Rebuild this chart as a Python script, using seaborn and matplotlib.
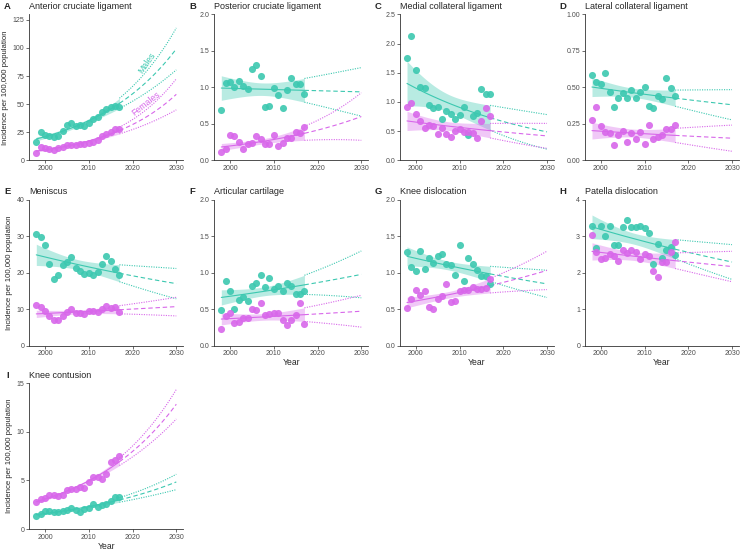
import numpy as np
import pandas as pd
import matplotlib
matplotlib.use("Agg")
import matplotlib.pyplot as plt
import seaborn as sns

# observed years
years = [1998, 1999, 2000, 2001, 2002, 2003, 2004, 2005, 2006, 2007,
         2008, 2009, 2010, 2011, 2012, 2013, 2014, 2015, 2016, 2017]
proj_end = 2030

# incidence per 100,000
acl_m = [16.3, 25.2, 22.2, 21.3, 20.4, 21.6, 26.0, 31.0, 33.5, 30.5,
         31.7, 30.8, 33.5, 36.4, 38.5, 43.0, 46.0, 47.4, 48.3, 47.4]
acl_f = [6.8, 12.1, 11.3, 10.1, 9.2, 10.7, 11.6, 13.3, 13.9, 13.6,
         14.5, 14.2, 15.7, 16.6, 17.8, 21.6, 23.7, 25.2, 27.5, 28.1]
pcl_m = [0.69, 1.06, 1.07, 1.00, 1.09, 1.02, 0.98, 1.25, 1.31, 1.15,
         0.73, 0.74, 0.99, 0.89, 0.71, 0.96, 1.13, 1.05, 1.05, 0.91]
pcl_f = [0.11, 0.15, 0.34, 0.33, 0.25, 0.15, 0.23, 0.24, 0.33, 0.29,
         0.23, 0.23, 0.34, 0.20, 0.24, 0.31, 0.30, 0.39, 0.38, 0.45]
mcl_m = [1.76, 2.13, 1.54, 1.25, 1.24, 0.94, 0.89, 0.91, 0.70, 0.84,
         0.80, 0.71, 0.77, 0.92, 0.43, 0.75, 0.81, 1.22, 1.14, 1.13]
mcl_f = [0.92, 0.98, 0.80, 0.67, 0.56, 0.60, 0.58, 0.45, 0.56, 0.45,
         0.40, 0.50, 0.54, 0.49, 0.48, 0.46, 0.39, 0.67, 0.89, 0.76]
lcl_m = [0.584, 0.534, 0.525, 0.598, 0.468, 0.364, 0.425, 0.461, 0.425, 0.480,
         0.427, 0.468, 0.502, 0.370, 0.355, 0.441, 0.418, 0.564, 0.493, 0.441]
lcl_f = [0.277, 0.366, 0.236, 0.191, 0.189, 0.102, 0.175, 0.202, 0.127, 0.189,
         0.143, 0.191, 0.111, 0.243, 0.143, 0.161, 0.175, 0.216, 0.216, 0.245]
men_m = [30.6, 29.7, 27.6, 22.4, 18.3, 19.4, 22.0, 22.9, 24.3, 21.1,
         20.5, 19.7, 20.0, 19.3, 20.1, 22.3, 24.4, 23.2, 20.9, 19.4]
men_f = [11.2, 10.5, 9.5, 8.0, 7.0, 7.0, 8.2, 9.1, 9.9, 8.9,
         8.9, 8.5, 9.4, 9.5, 9.2, 9.9, 10.7, 10.4, 10.5, 9.3]
cart_m = [0.48, 0.88, 0.74, 0.50, 0.63, 0.67, 0.61, 0.81, 0.86, 0.96,
          0.80, 0.92, 0.78, 0.82, 0.74, 0.85, 0.82, 0.70, 0.70, 0.75]
cart_f = [0.22, 0.40, 0.45, 0.31, 0.32, 0.37, 0.38, 0.50, 0.48, 0.58,
          0.42, 0.43, 0.45, 0.45, 0.35, 0.28, 0.35, 0.42, 0.58, 0.30]
kdis_m = [1.28, 1.08, 1.02, 1.30, 1.05, 1.20, 1.13, 1.23, 1.25, 1.12,
          1.10, 0.96, 1.37, 0.89, 1.20, 1.12, 1.04, 0.95, 0.95, 0.84]
kdis_f = [0.52, 0.64, 0.76, 0.69, 0.75, 0.53, 0.50, 0.64, 0.68, 0.84,
          0.59, 0.61, 0.75, 0.76, 0.76, 0.80, 0.78, 0.78, 0.79, 0.91]
pat_m = [3.27, 2.68, 3.27, 3.01, 3.28, 2.76, 2.76, 3.24, 3.44, 3.26,
         3.25, 3.28, 3.22, 3.09, 2.24, 2.78, 2.41, 2.61, 2.69, 2.47]
pat_f = [3.03, 2.56, 2.36, 2.41, 2.52, 2.45, 2.32, 2.61, 2.54, 2.63,
         2.55, 2.37, 2.51, 2.44, 2.03, 1.87, 2.30, 2.30, 2.56, 2.84]
cont_m = [1.33, 1.57, 1.81, 1.81, 1.74, 1.77, 1.84, 1.98, 2.15, 1.98,
          1.77, 2.01, 2.15, 2.52, 2.28, 2.49, 2.56, 2.83, 3.27, 3.27]
cont_f = [2.76, 3.07, 3.20, 3.51, 3.51, 3.37, 3.51, 4.05, 4.16, 4.09,
          4.36, 4.22, 4.87, 5.32, 5.35, 5.14, 5.69, 6.85, 7.09, 7.50]

letters = ["A", "B", "C", "D", "E", "F", "G", "H", "I"]
titles = ["Anterior cruciate ligament", "Posterior cruciate ligament",
          "Medial collateral ligament", "Lateral collateral ligament",
          "Meniscus", "Articular cartilage", "Knee dislocation",
          "Patella dislocation", "Knee contusion"]
males = [acl_m, pcl_m, mcl_m, lcl_m, men_m, cart_m, kdis_m, pat_m, cont_m]
females = [acl_f, pcl_f, mcl_f, lcl_f, men_f, cart_f, kdis_f, pat_f, cont_f]
yticks = [[0, 25, 50, 75, 100, 125], [0.0, 0.5, 1.0, 1.5, 2.0],
          [0.0, 0.5, 1.0, 1.5, 2.0, 2.5], [0.00, 0.25, 0.50, 0.75, 1.00],
          [0, 10, 20, 30, 40], [0.0, 0.5, 1.0, 1.5, 2.0],
          [0.0, 0.5, 1.0, 1.5, 2.0], [0, 1, 2, 3, 4], [0, 5, 10, 15]]
ytop = [130, 2.0, 2.5, 1.0, 40, 2.0, 2.0, 4, 15]
yfmt = ["%d", "%.1f", "%.1f", "%.2f", "%d", "%.1f", "%.1f", "%d", "%d"]
xticks = [2000, 2010, 2020, 2030]

C_M = "#3cc8b0"
C_F = "#d867ea"
T18 = 2.101


def loglinear_fit(y):
    # log-linear trend with 95% CI on the response scale
    x = np.asarray(years, float)
    xm = x.mean()
    ly = np.log(np.asarray(y, float))
    b, a = np.polyfit(x - xm, ly, 1)
    n = len(x)
    s = np.sqrt(np.sum((ly - (a + b * (x - xm))) ** 2) / (n - 2))
    sxx = np.sum((x - xm) ** 2)

    def pred(xx):
        xc = xx - xm
        mu = np.exp(a + b * xc)
        se = s * np.sqrt(1 / n + xc ** 2 / sxx)
        return mu, mu * (1 - T18 * se), mu * (1 + T18 * se)
    return pred


sns.set_style("ticks")
plt.rcParams["font.family"] = ["Liberation Sans", "DejaVu Sans"]

W, H = 740, 550
fig = plt.figure(figsize=(W / 100, H / 100), dpi=100)
col_left = [29.3, 214.3, 400, 585]
row_top = [14.3, 199.5, 383.0]
aw, ah = 154, 146

xin = np.linspace(years[0], years[-1], 60)
xout = np.linspace(years[-1], proj_end, 60)

for i in range(9):
    r, c = divmod(i, 4)
    l, t = col_left[c], row_top[r]
    ax = fig.add_axes([l / W, 1 - (t + ah) / H, aw / W, ah / H])
    for y, col in [(males[i], C_M), (females[i], C_F)]:
        pred = loglinear_fit(y)
        mu, lo, hi = pred(xin)
        ax.fill_between(xin, lo, hi, color=col, alpha=0.36, lw=0, zorder=1)
        sns.lineplot(x=xin, y=mu, ax=ax, color=col, lw=0.8, zorder=2)
        mu2, lo2, hi2 = pred(xout)
        ax.plot(xout, mu2, color=col, lw=0.8, ls=(0, (4, 2.5)), zorder=2)
        ax.plot(xout, lo2, color=col, lw=0.8, ls=(0, (1, 1.2)), zorder=2)
        ax.plot(xout, hi2, color=col, lw=0.8, ls=(0, (1, 1.2)), zorder=2)
        df = pd.DataFrame({"Year": years, "rate": y})
        sns.scatterplot(data=df, x="Year", y="rate", ax=ax, color=col,
                        s=26, alpha=0.9, linewidth=0, zorder=3)
    ax.set_xlim(1996.4, 2031.6)
    ax.set_ylim(0, ytop[i])
    ax.set_xticks(xticks)
    ax.set_yticks(yticks[i])
    ax.set_yticklabels([yfmt[i] % v for v in yticks[i]])
    ax.tick_params(labelsize=5, length=2, width=0.5, pad=1.5,
                   colors="#333333", labelcolor="#4d4d4d")
    for sp in ["top", "right"]:
        ax.spines[sp].set_visible(False)
    for sp in ["left", "bottom"]:
        ax.spines[sp].set_linewidth(0.6)
        ax.spines[sp].set_color("#333333")
    ax.set_xlabel("Year" if i >= 5 else "", fontsize=6.2, labelpad=0.5)
    ax.set_ylabel("Incidence per 100,000 population" if c == 0 else "",
                  fontsize=5.6, labelpad=2.5)
    fig.text((l - 22) / W, 1 - (t - 8) / H, letters[i], fontsize=6.8,
             fontweight="bold", va="center", ha="center")
    fig.text(l / W, 1 - (t - 8) / H, titles[i], fontsize=6.5,
             va="center", ha="left")
    if i == 0:
        ax.text(2023.4, 87, "Males", color=C_M, fontsize=6.3, rotation=55,
                ha="center", va="center")
        ax.text(2023.1, 50, "Females", color=C_F, fontsize=6.3, rotation=38,
                ha="center", va="center")

fig.savefig("out.png", dpi=100)
